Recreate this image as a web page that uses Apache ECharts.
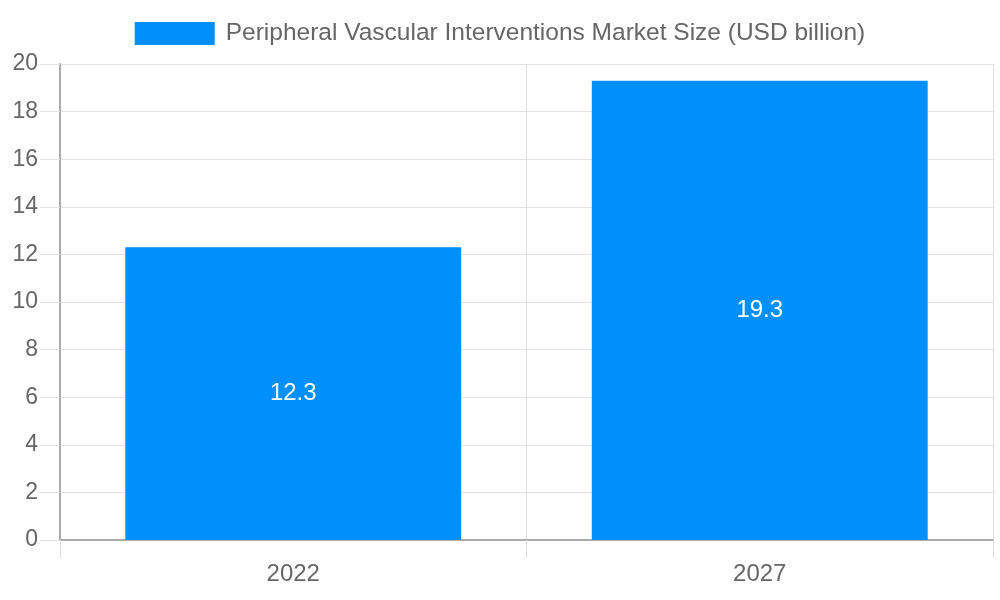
<!DOCTYPE html>
<html><head><meta charset="utf-8">
<script src="https://cdn.jsdelivr.net/npm/echarts@6/dist/echarts.min.js"></script>
<style>html,body{margin:0;padding:0;background:#fff}#c{width:1000px;height:600px}</style>
</head><body><div id="c"></div>
<script>
const categories = ['2022', '2027'];
const seriesName = 'Peripheral Vascular Interventions Market Size (USD billion)';
const marketSize = [12.3, 19.3];

const chart = echarts.init(document.getElementById('c'));
const font = 'Liberation Sans, Arial, sans-serif';
chart.setOption({
  animation: false,
  textStyle: { fontFamily: font },
  legend: {
    top: 16, left: 'center', itemWidth: 80, itemHeight: 23, itemGap: 10,
    icon: 'rect',
    textStyle: { fontSize: 24.5, color: '#666', fontFamily: font, padding: [0, 0, 0, 6] },
    data: [seriesName]
  },
  grid: { left: 60, right: 7, top: 64, bottom: 60 },
  xAxis: {
    type: 'category', data: categories, boundaryGap: true,
    axisLine: { lineStyle: { color: '#aaa', width: 2 } },
    axisTick: { show: true, length: 18, interval: 0, lineStyle: { color: '#ddd' } },
    splitLine: { show: true, interval: 0, lineStyle: { color: '#ddd' } },
    axisLabel: { fontSize: 24, color: '#666', margin: 22, fontFamily: font }
  },
  yAxis: {
    type: 'value', min: 0, max: 20, interval: 2,
    axisLine: { show: true, lineStyle: { color: '#aaa', width: 2 } },
    axisTick: { show: true, length: 20, lineStyle: { color: '#e3e3e3' } },
    splitLine: { show: true, lineStyle: { color: '#e3e3e3' } },
    axisLabel: { fontSize: 23, color: '#666', margin: 22, fontFamily: font }
  },
  series: [{
    name: seriesName, type: 'bar', data: marketSize,
    barWidth: '72%',
    itemStyle: { color: '#008FFB' },
    label: { show: true, position: 'inside', color: '#fff', fontSize: 24, fontFamily: font }
  }]
});
</script></body></html>
